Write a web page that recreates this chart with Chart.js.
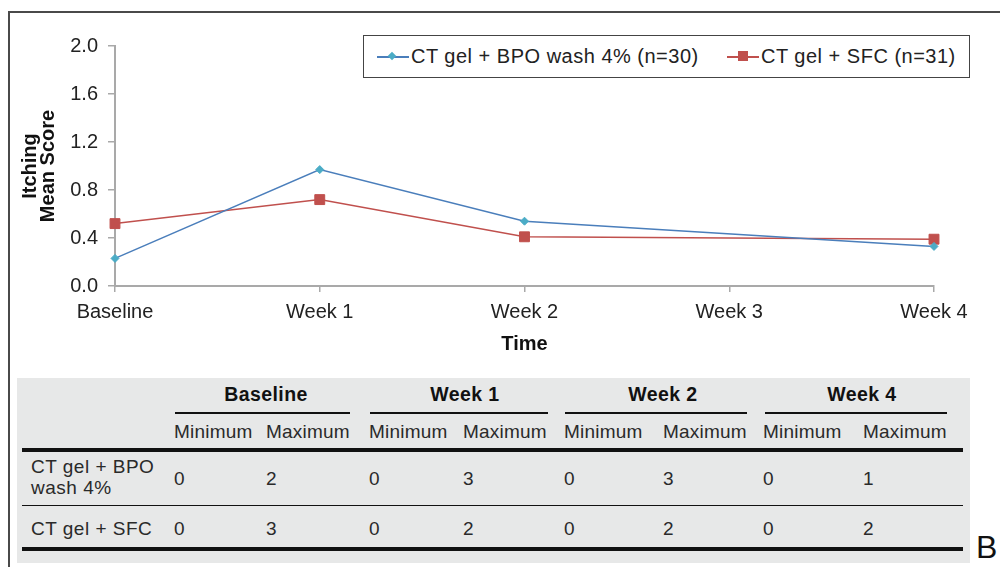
<!DOCTYPE html>
<html lang="en">
<head>
  <meta charset="UTF-8" />
  <title>Itching Mean Score</title>
  <script src="https://cdn.jsdelivr.net/npm/chart.js"></script>
  <style>
    html, body { margin: 0; padding: 0; background: #fff; }
    body { width: 1000px; height: 567px; position: relative; overflow: hidden;
           font-family: "Liberation Sans", Arial, Helvetica, sans-serif; color: #222; }
    .frame { position: absolute; left: 8px; top: 11px; width: 1000px; height: 600px;
             border-top: 2px solid #4a4a4a; border-left: 2px solid #4a4a4a; }
    #chart { position: absolute; left: 0; top: 0; }
    .legend { position: absolute; left: 363px; top: 35px; width: 607px; height: 43px;
              border: 1px solid #444; box-sizing: border-box; background: #fff; }
    .legend .item { position: absolute; top: 0; height: 41px; line-height: 41px; font-size: 20px;
                    letter-spacing: 0.5px; white-space: nowrap; }
    .legend .line { position: absolute; top: 20px; height: 1.5px; width: 32px; }
    .legend .mark { position: absolute; }
    .legend .txt { position: absolute; left: 34px; top: 0; }
    .tbl { position: absolute; left: 17px; top: 378px; width: 953px; height: 185px; background: #e7e8e8; }
    .cell { position: absolute; white-space: nowrap; font-size: 19px; letter-spacing: 0.2px; line-height: 21px; color: #2a2a2a; }
    .lbl { letter-spacing: 0.5px; }
    .hdr { font-weight: bold; font-size: 19.5px; letter-spacing: 0.4px; color: #111; }
    .rule { position: absolute; background: #111; }
    .tag { position: absolute; left: 976px; top: 530px; font-size: 32px; line-height: 34px; color: #111; }
  </style>
</head>
<body>
  <div class="frame"></div>
  <div class="tbl" id="tbl"></div>
  <canvas id="chart" width="1000" height="370"></canvas>
  <div class="legend" id="legend"></div>
  <div class="tag">B</div>

  <script>
    // chart data
    const categories = ['Baseline', 'Week 1', 'Week 2', 'Week 3', 'Week 4'];
    const bpoWashScores = [0.23, 0.97, 0.54, null, 0.33];
    const sfcScores = [0.52, 0.72, 0.41, null, 0.39];
    const seriesNames = ['CT gel + BPO wash 4% (n=30)', 'CT gel + SFC (n=31)'];

    // table data
    const tableTimepoints = ['Baseline', 'Week 1', 'Week 2', 'Week 4'];
    const tableGroups = ['CT gel + BPO wash 4%', 'CT gel + SFC'];
    const bpoMin = [0, 0, 0, 0];
    const bpoMax = [2, 3, 3, 1];
    const sfcMin = [0, 0, 0, 0];
    const sfcMax = [3, 2, 2, 2];

    const BLUE = '#4a7ebb', BLUE_MARK = '#4bacc6', RED = '#c0504d';
    const AXIS = '#a9a9a9';

    // legend (boxed, inside plot)
    const legend = document.getElementById('legend');
    const legendItems = [
      { left: 13, color: BLUE, mark: `<div class="mark" style="left:12px;top:17px;width:6px;height:6px;background:${BLUE_MARK};transform:rotate(45deg)"></div>` },
      { left: 363, color: RED, mark: `<div class="mark" style="left:11px;top:15px;width:10px;height:10px;background:${RED}"></div>` }
    ];
    legendItems.forEach((it, i) => {
      const d = document.createElement('div');
      d.className = 'item';
      d.style.left = it.left + 'px';
      d.innerHTML = `<div class="line" style="background:${it.color}"></div>${it.mark}<span class="txt">${seriesNames[i]}</span>`;
      legend.appendChild(d);
    });

    new Chart(document.getElementById('chart'), {
      type: 'line',
      data: {
        labels: categories,
        datasets: [
          { label: seriesNames[0], data: bpoWashScores, borderColor: BLUE, borderWidth: 1.5,
            pointStyle: 'rectRot', pointRadius: 4, pointBackgroundColor: BLUE_MARK, pointBorderColor: BLUE_MARK,
            pointBorderWidth: 1, spanGaps: true, tension: 0 },
          { label: seriesNames[1], data: sfcScores, borderColor: RED, borderWidth: 1.5,
            pointStyle: 'rect', pointRadius: 7, pointBackgroundColor: RED, pointBorderColor: RED,
            pointBorderWidth: 1, spanGaps: true, tension: 0 }
        ]
      },
      options: {
        responsive: false,
        animation: false,
        layout: { padding: { top: 46, right: 66, left: 0, bottom: 0 } },
        plugins: { legend: { display: false }, tooltip: { enabled: false } },
        scales: {
          x: {
            offset: false,
            afterFit: s => { s.height = 84; },
            grid: { drawOnChartArea: false, drawTicks: true, tickLength: 6, color: AXIS, lineWidth: 1.5 },
            border: { color: AXIS, width: 2 },
            ticks: { color: '#222', padding: 8, font: { family: 'Liberation Sans', size: 20 }, maxRotation: 0 },
            title: { display: true, text: 'Time', color: '#111', padding: { top: 0, bottom: 16 },
                     font: { family: 'Liberation Sans', size: 20, weight: 'bold', lineHeight: 1 } }
          },
          y: {
            min: 0, max: 2.0,
            afterFit: s => { s.width = 115; },
            grid: { drawOnChartArea: false, drawTicks: true, tickLength: 7, color: AXIS, lineWidth: 1.5 },
            border: { color: AXIS, width: 2 },
            ticks: { stepSize: 0.4, color: '#222', padding: 10, font: { family: 'Liberation Sans', size: 20 },
                     callback: v => v.toFixed(1) },
            title: { display: true, text: ['Itching', 'Mean Score'], color: '#111', padding: { top: 21, bottom: 0 },
                     font: { family: 'Liberation Sans', size: 20, weight: 'bold', lineHeight: 0.9 } }
          }
        }
      }
    });

    // table below the chart (page coordinates, shifted into the grey panel)
    const tbl = document.getElementById('tbl');
    const OX = 17, OY = 378;
    const minCol = [174, 369, 564, 763];
    const maxCol = [266, 463, 663, 863];
    const groupSpan = [[175, 350], [370, 548], [565, 747], [765, 947]];
    const headCenter = [266, 465, 663, 862];

    function put(html, x, y, cls, extra) {
      const d = document.createElement('div');
      d.className = 'cell ' + (cls || '');
      d.style.left = (x - OX) + 'px';
      d.style.top = (y - OY) + 'px';
      if (extra) Object.assign(d.style, extra);
      d.innerHTML = html;
      tbl.appendChild(d);
      return d;
    }
    function rule(x1, x2, y, h) {
      const r = document.createElement('div');
      r.className = 'rule';
      r.style.left = (x1 - OX) + 'px';
      r.style.width = (x2 - x1) + 'px';
      r.style.top = (y - OY - h / 2) + 'px';
      r.style.height = h + 'px';
      tbl.appendChild(r);
    }

    tableTimepoints.forEach((t, i) => {
      const [a, b] = groupSpan[i];
      put(t, headCenter[i] - 100, 384, 'hdr', { width: '200px', textAlign: 'center' });
      rule(a, b, 413, 1.5);
      put('Minimum', minCol[i], 421);
      put('Maximum', maxCol[i], 421);
    });
    rule(22, 963, 450, 4.5);

    const rowsMin = [bpoMin, sfcMin];
    const rowsMax = [bpoMax, sfcMax];
    const rowY = [468, 518];
    tableGroups.forEach((g, r) => {
      put(g, 31, r === 0 ? 456 : rowY[r], 'lbl', { whiteSpace: 'normal', width: '135px' });
      tableTimepoints.forEach((_, i) => {
        put(String(rowsMin[r][i]), minCol[i], rowY[r]);
        put(String(rowsMax[r][i]), maxCol[i], rowY[r]);
      });
    });
    rule(22, 963, 505.5, 1.5);
    rule(22, 963, 549, 4.5);
  </script>
</body>
</html>
